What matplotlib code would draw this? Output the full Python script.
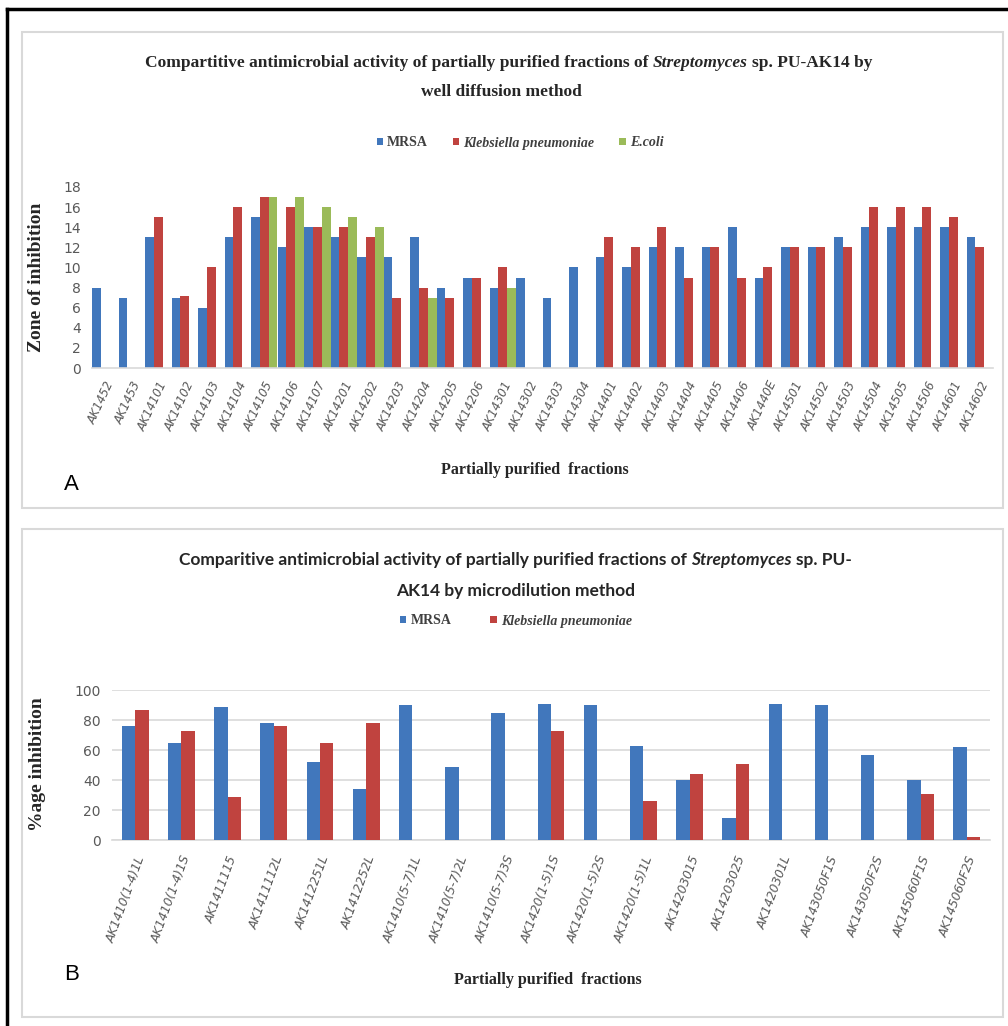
import numpy as np
import matplotlib
matplotlib.use("Agg")
import matplotlib.pyplot as plt
from matplotlib.lines import Line2D
from matplotlib.patches import Rectangle

# ---- data: panel A (zone of inhibition, well diffusion) ----
fractions_a = ["AK1452", "AK1453", "AK14101", "AK14102", "AK14103", "AK14104",
               "AK14105", "AK14106", "AK14107", "AK14201", "AK14202", "AK14203",
               "AK14204", "AK14205", "AK14206", "AK14301", "AK14302", "AK14303",
               "AK14304", "AK14401", "AK14402", "AK14403", "AK14404", "AK14405",
               "AK14406", "AK1440E", "AK14501", "AK14502", "AK14503", "AK14504",
               "AK14505", "AK14506", "AK14601", "AK14602"]
mrsa_a = [8, 7, 13, 7, 6, 13, 15, 12, 14, 13, 11, 11, 13, 8, 9, 8, 9, 7,
          10, 11, 10, 12, 12, 12, 14, 9, 12, 12, 13, 14, 14, 14, 14, 13]
kleb_a = [0, 0, 15, 7.2, 10, 16, 17, 16, 14, 14, 13, 7, 8, 7, 9, 10, 0, 0,
          0, 13, 12, 14, 9, 12, 9, 10, 12, 12, 12, 16, 16, 16, 15, 12]
ecoli_a = [0, 0, 0, 0, 0, 0, 17, 17, 16, 15, 14, 0, 7, 0, 0, 8, 0, 0,
           0, 0, 0, 0, 0, 0, 0, 0, 0, 0, 0, 0, 0, 0, 0, 0]

# ---- data: panel B (% inhibition, microdilution) ----
fractions_b = ["AK1410(1-4)1L", "AK1410(1-4)1S", "AK1411115", "AK1411112L",
               "AK1412251L", "AK1412252L", "AK1410(5-7)1L", "AK1410(5-7)2L",
               "AK1410(5-7)3S", "AK1420(1-5)1S", "AK1420(1-5)2S", "AK1420(1-5)1L",
               "AK14203015", "AK14203025", "AK1420301L", "AK143050F1S",
               "AK143050F2S", "AK145060F1S", "AK145060F2S"]
mrsa_b = [76, 65, 89, 78, 52, 34, 90, 49, 85, 91, 90, 63, 40, 15, 91, 90, 57, 40, 62]
kleb_b = [87, 73, 29, 76, 65, 78, 0, 0, 0, 73, 0, 26, 44, 51, 0, 0, 0, 31, 2]

BLUE = "#4177BC"
RED = "#C0433F"
GREEN = "#9BBB59"
GRID = "#D9D9D9"
TICK = "#595959"
SERIF = "Liberation Serif"

W, H = 1008, 1026
fig = plt.figure(figsize=(W / 100, H / 100), dpi=100)


def fx(px):
    return px / W


def fy(px):
    return 1 - px / H


# panel frames and outer black border
fig.add_artist(Rectangle((fx(22), fy(508)), fx(1003) - fx(22), fy(32) - fy(508),
                         fill=False, edgecolor=GRID, lw=1.5, transform=fig.transFigure))
fig.add_artist(Rectangle((fx(22), fy(1017)), fx(1003) - fx(22), fy(529) - fy(1017),
                         fill=False, edgecolor=GRID, lw=1.5, transform=fig.transFigure))
fig.add_artist(Line2D([fx(7), fx(7)], [0, fy(9)], color="black", lw=2.5,
                      transform=fig.transFigure))
fig.add_artist(Line2D([fx(7), 1], [fy(9), fy(9)], color="black", lw=2.5,
                      transform=fig.transFigure))

renderer = fig.canvas.get_renderer()


def rich_line(xc, y, parts, **kw):
    # parts: list of (text, fontstyle); pieces are joined with a single space
    probe = fig.text(0, 0, "x x", **kw)
    probe2 = fig.text(0, 0, "xx", **kw)
    gap = probe.get_window_extent(renderer).width - probe2.get_window_extent(renderer).width
    probe.remove()
    probe2.remove()
    items = []
    for s, style in parts:
        t = fig.text(0, y, s, fontstyle=style, va="center", ha="left", **kw)
        items.append((t, t.get_window_extent(renderer).width))
    total = sum(w for _, w in items) + gap * (len(items) - 1)
    x = xc * W - total / 2
    for t, w in items:
        t.set_x(x / W)
        x += w + gap


def style_axis(ax):
    for side in ["top", "right", "left"]:
        ax.spines[side].set_visible(False)
    ax.spines["bottom"].set_color(GRID)
    ax.spines["bottom"].set_linewidth(1.2)
    ax.tick_params(length=0, colors=TICK)
    ax.tick_params(axis="y", labelsize=10, pad=8)


# ---------------- panel A ----------------
ax1 = fig.add_axes([fx(92), fy(368), fx(993) - fx(92), fy(187) - fy(368)])
n = len(fractions_a)
x = np.arange(n)
w = 1 / 3
ax1.bar(x - w, mrsa_a, w, color=BLUE, label="MRSA")
ax1.bar(x, kleb_a, w, color=RED, label="Klebsiella pneumoniae")
ax1.bar(x + w, ecoli_a, w, color=GREEN, label="E.coli")
ax1.set_xlim(-0.5, n - 0.5)
ax1.set_ylim(0, 18)
ax1.set_yticks(range(0, 19, 2))
ax1.set_xticks(x)
ax1.set_xticklabels(fractions_a, rotation=65, ha="right", rotation_mode="anchor",
                    fontsize=8.5, fontstyle="italic", color="#303030")
style_axis(ax1)
ax1.tick_params(axis="x", pad=8)

rich_line(0.505, fy(63), [("Compartitive antimicrobial activity of partially purified fractions of", "normal"),
                          ("Streptomyces", "italic"), ("sp. PU-AK14 by", "normal")],
          family=SERIF, fontweight="bold", fontsize=12.5, color="#262626")
fig.text(0.497, fy(92), "well diffusion method", ha="center", va="center",
         family=SERIF, fontweight="bold", fontsize=12.5, color="#262626")

leg1 = fig.legend(handles=ax1.containers, labels=["MRSA", "Klebsiella pneumoniae", "E.coli"],
                  loc="center", bbox_to_anchor=(fx(520), fy(143)), ncol=3, frameon=False,
                  prop={"family": SERIF, "weight": "bold", "size": 10},
                  handlelength=0.45, handleheight=0.45, handletextpad=0.3, columnspacing=1.8)
for t in leg1.get_texts()[1:]:
    t.set_fontstyle("italic")
for t in leg1.get_texts():
    t.set_color("#404040")

fig.text(fx(37), fy(277), "Zone of inhibition", rotation=90, ha="center", va="center",
         family=SERIF, fontweight="bold", fontsize=14, color="#262626")
fig.text(fx(535), fy(470), "Partially purified  fractions", ha="center", va="center",
         family=SERIF, fontweight="bold", fontsize=11.5, color="#262626")
fig.text(fx(64), fy(484), "A", ha="left", va="center", family="Liberation Sans",
         fontsize=16, color="black")

# ---------------- panel B ----------------
ax2 = fig.add_axes([fx(112), fy(840), fx(990) - fx(112), fy(690) - fy(840)])
m = len(fractions_b)
xb = np.arange(m)
wb = 0.29
ax2.bar(xb - wb / 2, mrsa_b, wb, color=BLUE, label="MRSA", zorder=3)
ax2.bar(xb + wb / 2, kleb_b, wb, color=RED, label="Klebsiella pneumoniae", zorder=3)
ax2.set_xlim(-0.5, m - 0.5)
ax2.set_ylim(0, 100)
ax2.set_yticks(range(0, 101, 20))
ax2.yaxis.grid(True, color=GRID, lw=1.2, zorder=0)
ax2.set_axisbelow(True)
ax2.set_xticks(xb)
ax2.set_xticklabels(fractions_b, rotation=70, ha="right", rotation_mode="anchor",
                    fontsize=8.8, fontstyle="italic", color="#303030")
style_axis(ax2)
ax2.tick_params(axis="x", pad=10)

rich_line(0.5115, fy(560), [("Comparitive antimicrobial activity of partially purified fractions of", "normal"),
                            ("Streptomyces", "italic"), ("sp. PU-", "normal")],
          family="Lato", fontweight="bold", fontsize=12.5, color="#262626")
fig.text(0.5115, fy(591), "AK14 by microdilution method", ha="center", va="center",
         family="Lato", fontweight="bold", fontsize=12.5, color="#262626")

leg2 = fig.legend(handles=ax2.containers, labels=["MRSA", "Klebsiella pneumoniae"],
                  loc="center", bbox_to_anchor=(fx(516), fy(621)), ncol=2, frameon=False,
                  prop={"family": SERIF, "weight": "bold", "size": 10},
                  handlelength=0.45, handleheight=0.45, handletextpad=0.3, columnspacing=2.8)
leg2.get_texts()[1].set_fontstyle("italic")
for t in leg2.get_texts():
    t.set_color("#404040")

fig.text(fx(37), fy(764), "%age inhibition", rotation=90, ha="center", va="center",
         family=SERIF, fontweight="bold", fontsize=14, color="#262626")
fig.text(fx(548), fy(980), "Partially purified  fractions", ha="center", va="center",
         family=SERIF, fontweight="bold", fontsize=11.5, color="#262626")
fig.text(fx(64), fy(975), "B", ha="left", va="center", family="Liberation Sans",
         fontsize=16, color="black")

fig.savefig("out.png", dpi=100, facecolor="white")
